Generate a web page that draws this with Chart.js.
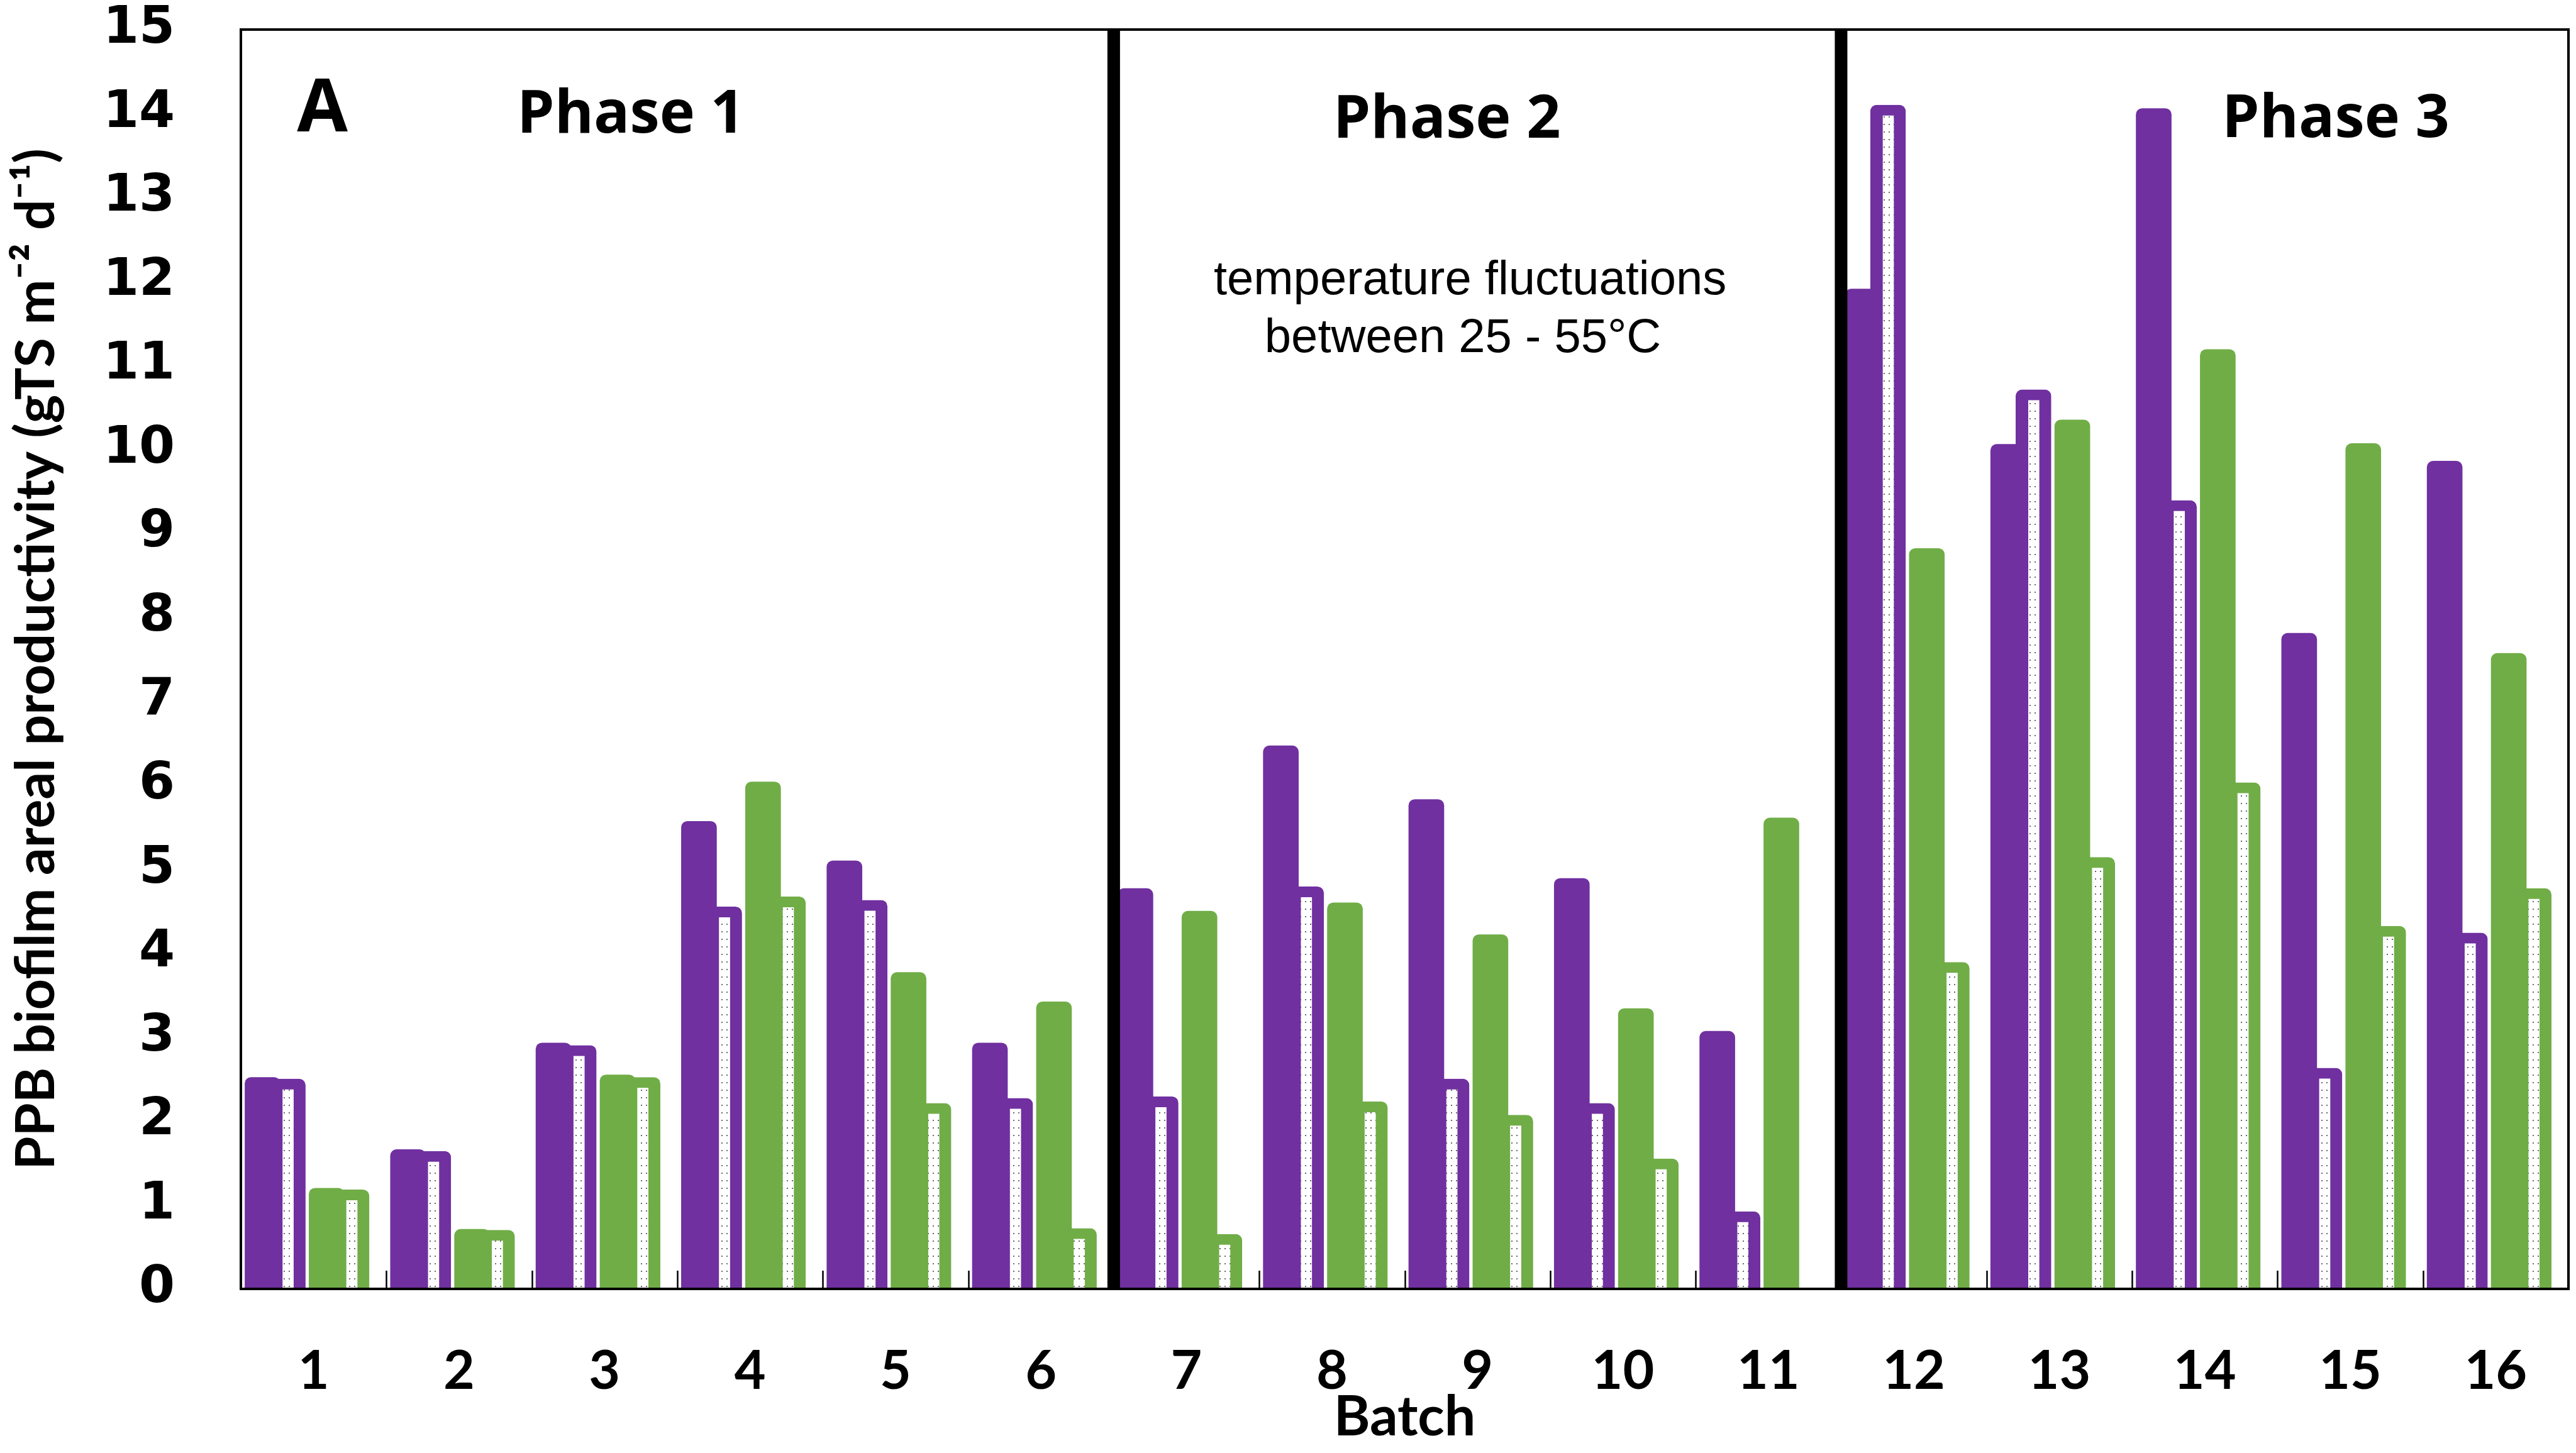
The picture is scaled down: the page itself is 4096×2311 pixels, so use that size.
<!DOCTYPE html>
<html>
<head>
<meta charset="utf-8">
<script src="https://cdn.jsdelivr.net/npm/chart.js@4.4.1/dist/chart.umd.min.js"></script>
<style>
html,body{margin:0;padding:0;background:#fff;}
canvas{display:block;}
</style>
</head>
<body>
<canvas id="c" width="4096" height="2311"></canvas>
<script>
// ---------------- data ----------------
const categories = [1, 2, 3, 4, 5, 6, 7, 8, 9, 10, 11, 12, 13, 14, 15, 16];
const purpleSolid   = [2.52, 1.66, 2.93, 5.57, 5.10, 2.93, 4.77, 6.47, 5.83, 4.89, 3.07, 11.91, 10.06, 14.06, 7.81, 9.86];
const purplePattern = [2.50, 1.64, 2.90, 4.55, 4.63, 2.27, 2.29, 4.79, 2.50, 2.21, 0.92, 14.10, 10.71, 9.39, 2.63, 4.24];
const greenSolid    = [1.20, 0.71, 2.55, 6.04, 3.77, 3.42, 4.50, 4.60, 4.22, 3.34, 5.61, 8.82, 10.35, 11.19, 10.07, 7.57];
const greenPattern  = [1.18, 0.70, 2.52, 4.67, 2.21, 0.72, 0.65, 2.23, 2.07, 1.55, null, 3.89, 5.14, 6.03, 4.32, 4.77];
const yTicks = [0, 1, 2, 3, 4, 5, 6, 7, 8, 9, 10, 11, 12, 13, 14, 15];
const phaseBoundaries = [6.5, 11.5];
const yTitle = 'PPB biofilm areal productivity (gTS m\u207B\u00B2 d\u207B\u00B9)';
const xTitle = 'Batch';

// ---------------- layout / style ----------------
const PURPLE = '#7030A0';
const GREEN = '#70AD47';
const BAR_W = 56;
const X_OFFSETS = [-0.351, -0.1775, 0.0895, 0.261];
const annotations = [
  {text: 'A',       x: 1.06,  y: 13.79, font: 'bold 117px "Open Sans"'},
  {text: 'Phase 1', x: 3.18,  y: 13.77, font: 'bold 95px "Open Sans"'},
  {text: 'Phase 2', x: 8.79,  y: 13.71, font: 'bold 95px "Open Sans"'},
  {text: 'Phase 3', x: 14.90, y: 13.72, font: 'bold 95px "Open Sans"'},
  {text: 'temperature fluctuations', x: 8.95, y: 11.85, font: '76px "Liberation Sans"'},
  {text: 'between 25 - 55\u00B0C',   x: 8.90, y: 11.16, font: '76px "Liberation Sans"'}
];

function makePattern() {
  const c = document.createElement('canvas');
  c.width = 8; c.height = 12;
  const g = c.getContext('2d');
  g.fillStyle = '#ffffff';
  g.fillRect(0, 0, 8, 12);
  g.fillStyle = '#6a6a6a';
  g.fillRect(3, 5, 2, 2);
  return g.createPattern(c, 'repeat');
}

function build() {
  const ctx = document.getElementById('c').getContext('2d');
  const pattern = makePattern();

  const seriesDefs = [
    {label: 'Purple (solid)',     values: purpleSolid,   color: PURPLE, patterned: false},
    {label: 'Purple (patterned)', values: purplePattern, color: PURPLE, patterned: true},
    {label: 'Green (solid)',      values: greenSolid,    color: GREEN,  patterned: false},
    {label: 'Green (patterned)',  values: greenPattern,  color: GREEN,  patterned: true}
  ];

  const datasets = seriesDefs.map((s, i) => ({
    label: s.label,
    data: s.values.map((v, k) => ({x: categories[k] + X_OFFSETS[i], y: v})),
    backgroundColor: s.patterned ? pattern : s.color,
    borderColor: s.color,
    borderWidth: s.patterned ? {left: 20, right: 19, top: 17, bottom: 0} : 0,
    borderSkipped: 'start',
    borderRadius: 10,
    barThickness: BAR_W,
    grouped: false,
    order: s.patterned ? 0 : 1
  }));

  const decor = {
    id: 'decor',
    beforeDraw(chart) {
      const c = chart.ctx;
      c.save();
      c.fillStyle = '#ffffff';
      c.fillRect(0, 0, chart.width, chart.height);
      c.restore();
    },
    afterDatasetsDraw(chart) {
      const c = chart.ctx;
      const a = chart.chartArea;
      const xs = chart.scales.x, ys = chart.scales.y;
      c.save();
      // small boundary ticks
      c.strokeStyle = '#000';
      c.lineWidth = 2.5;
      for (let i = 1; i < categories.length; i++) {
        const b = (categories[i - 1] + categories[i]) / 2;
        if (phaseBoundaries.includes(b)) continue;
        const px = Math.round(xs.getPixelForValue(b)) + 0.5;
        c.beginPath();
        c.moveTo(px, a.bottom);
        c.lineTo(px, a.bottom - 29);
        c.stroke();
      }
      // frame
      c.lineWidth = 4;
      c.strokeRect(a.left, a.top, a.right - a.left, a.bottom - a.top);
      // phase separators
      c.lineWidth = 20;
      phaseBoundaries.forEach(b => {
        const px = xs.getPixelForValue(b);
        c.beginPath();
        c.moveTo(px, a.top);
        c.lineTo(px, a.bottom);
        c.stroke();
      });
      // annotations
      c.fillStyle = '#000';
      c.textAlign = 'center';
      c.textBaseline = 'alphabetic';
      annotations.forEach(t => {
        c.font = t.font;
        c.fillText(t.text, xs.getPixelForValue(t.x), ys.getPixelForValue(t.y));
      });
      c.restore();
    }
  };

  new Chart(ctx, {
    type: 'bar',
    data: {datasets},
    plugins: [decor],
    options: {
      responsive: false,
      animation: false,
      devicePixelRatio: 1,
      layout: {padding: {left: 0, top: 47, right: 12, bottom: 0}},
      plugins: {legend: {display: false}, tooltip: {enabled: false}},
      scales: {
        x: {
          type: 'linear',
          min: 0.5,
          max: 16.5,
          offset: false,
          afterBuildTicks: s => { s.ticks = categories.map(v => ({value: v})); },
          grid: {display: false},
          border: {display: false},
          ticks: {
            color: '#000',
            font: {family: 'Lato', weight: 'bold', size: 86, lineHeight: 1},
            padding: 80,
            autoSkip: false,
            maxRotation: 0,
            callback: v => String(v)
          },
          title: {
            display: true,
            text: xTitle,
            color: '#000',
            font: {family: 'Lato', weight: 'bold', size: 88, lineHeight: 1},
            padding: {top: 0, bottom: 12}
          },
          afterFit: s => { s.height = 261; s.paddingLeft = 0; s.paddingRight = 0; }
        },
        y: {
          min: 0,
          max: 15,
          afterBuildTicks: s => { s.ticks = yTicks.map(v => ({value: v})); },
          grid: {display: false},
          border: {display: false},
          ticks: {
            color: '#000',
            font: {family: 'DejaVu Sans', weight: 'bold', size: 82, lineHeight: 1},
            padding: 97
          },
          title: {
            display: true,
            text: yTitle,
            color: '#000',
            font: {family: 'Lato', weight: 'bold', size: 86, lineHeight: 1},
            padding: {top: 15, bottom: 0}
          },
          afterFit: s => { s.width = 383; s.paddingTop = 0; s.paddingBottom = 0; }
        }
      }
    }
  });
}

const fontLoads = [
  'bold 86px Lato', 'bold 82px "DejaVu Sans"', 'bold 95px "Open Sans"', '76px "Liberation Sans"'
].map(f => document.fonts.load(f).catch(() => null));
Promise.race([Promise.all(fontLoads), new Promise(r => setTimeout(r, 1500))]).then(build);
</script>
</body>
</html>
